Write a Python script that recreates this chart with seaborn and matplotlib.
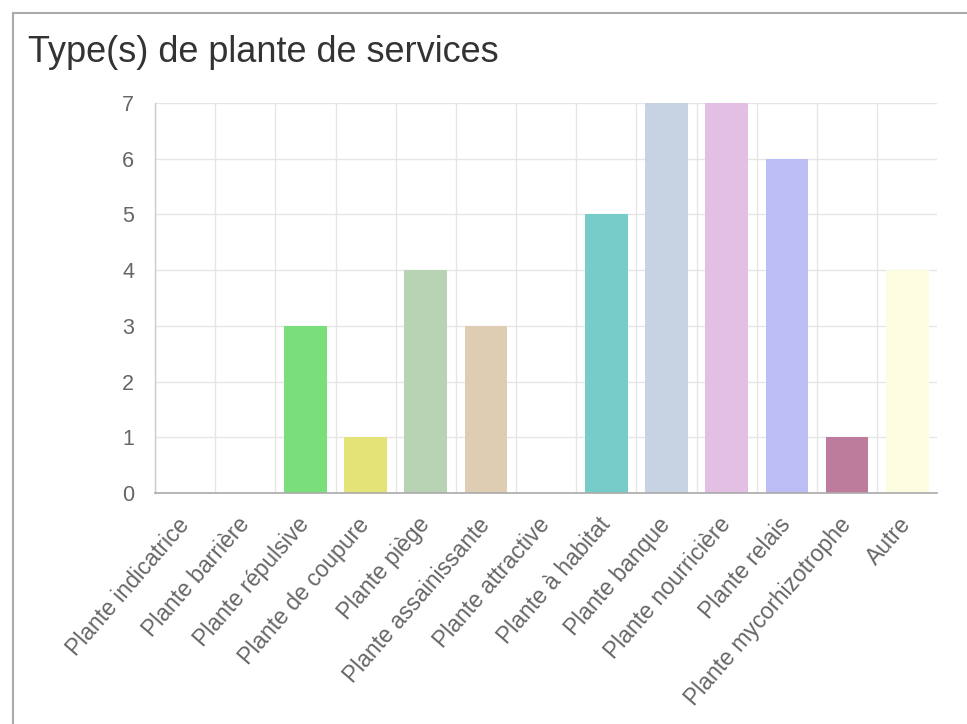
import numpy as np
import pandas as pd
import matplotlib
matplotlib.use("Agg")
import matplotlib.pyplot as plt
from matplotlib.lines import Line2D
import seaborn as sns

# data
categories = [
    "Plante indicatrice", "Plante barrière", "Plante répulsive",
    "Plante de coupure", "Plante piège", "Plante assainissante",
    "Plante attractive", "Plante à habitat", "Plante banque",
    "Plante nourricière", "Plante relais", "Plante mycorhizotrophe", "Autre",
]
counts = [0, 0, 3, 1, 4, 3, 0, 5, 7, 7, 6, 1, 4]
bar_colors = [
    "#7fd6c8", "#f0b0b0", "#7ADF7A", "#E3E377", "#B7D3B4", "#DECCB3",
    "#c0c0c0", "#76CCC8", "#C7D3E3", "#E3C0E3", "#BDBDF5", "#BE7C9C", "#FBFCE0",
]

df = pd.DataFrame({"type": categories, "n": counts})

sns.set_style("white")
plt.rcParams["font.family"] = ["Liberation Sans", "DejaVu Sans"]

fig = plt.figure(figsize=(9.67, 7.24), dpi=100)
ax = fig.add_axes([0.1603, 0.319, 0.809, 0.539])

sns.barplot(data=df, x="type", y="n", hue="type", palette=bar_colors,
            legend=False, width=0.71, saturation=1, linewidth=0,
            ax=ax, zorder=2)

ax.set_ylim(0, 7)
ax.set_xlim(-0.5, len(categories) - 0.5)
ax.set_xlabel("")
ax.set_ylabel("")

# y grid + tick marks
ax.set_yticks(range(0, 8))
ax.tick_params(axis="y", length=14, width=1, color="#e6e6e6", pad=1,
               labelsize=15.5, labelcolor="#666666")
ax.yaxis.grid(True, color="#e6e6e6", linewidth=1, zorder=0)

# x: labels at centres, gridlines at category boundaries
ax.set_xticks(range(len(categories)))
ax.set_xticklabels(categories, rotation=49, ha="right", va="center",
                   rotation_mode="anchor")
ax.tick_params(axis="x", which="major", length=0, pad=20,
               labelsize=16.5, labelcolor="#666666")
ax.set_xticks(np.arange(-0.5, len(categories) - 1, 1), minor=True)
ax.tick_params(axis="x", which="minor", length=14, width=1, color="#e6e6e6")
ax.xaxis.grid(True, which="minor", color="#e6e6e6", linewidth=1, zorder=0)
ax.xaxis.grid(False, which="major")

for s in ["top", "right"]:
    ax.spines[s].set_visible(False)
ax.spines["left"].set_color("#cccccc")
ax.spines["bottom"].set_color("#aaaaaa")
ax.spines["left"].set_linewidth(1)
ax.spines["bottom"].set_linewidth(1.2)
ax.spines["bottom"].set_zorder(4)

# card title and border
fig.text(0.029, 0.928, "Type(s) de plante de services", fontsize=26,
         color="#333333", va="center", ha="left")
fig.add_artist(Line2D([0.0135, 1.0], [0.982, 0.982], color="#aaaaaa",
                      linewidth=1.5, transform=fig.transFigure))
fig.add_artist(Line2D([0.0135, 0.0135], [0.0, 0.982], color="#aaaaaa",
                      linewidth=1.5, transform=fig.transFigure))

fig.savefig("out.png", dpi=100)
